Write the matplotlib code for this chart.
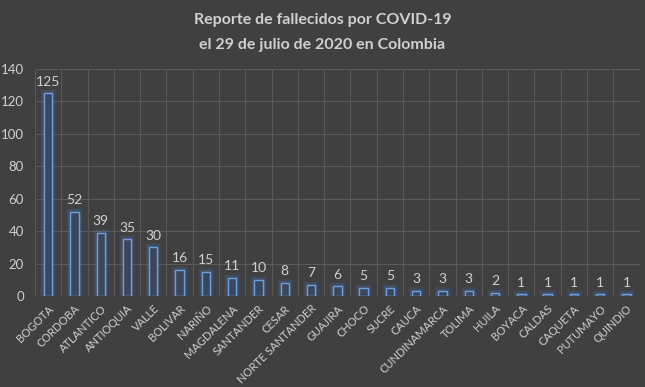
import matplotlib
matplotlib.use("Agg")
import matplotlib.pyplot as plt
import numpy as np

departments = ["BOGOTA", "CORDOBA", "ATLANTICO", "ANTIOQUIA", "VALLE", "BOLIVAR", "NARIÑO",
               "MAGDALENA", "SANTANDER", "CESAR", "NORTE SANTANDER", "GUAJIRA", "CHOCO",
               "SUCRE", "CAUCA", "CUNDINAMARCA", "TOLIMA", "HUILA", "BOYACA", "CALDAS",
               "CAQUETA", "PUTUMAYO", "QUINDIO"]
deaths = [125, 52, 39, 35, 30, 16, 15, 11, 10, 8, 7, 6, 5, 5, 3, 3, 3, 2, 1, 1, 1, 1, 1]
yticks = [0, 20, 40, 60, 80, 100, 120, 140]

bg = "#404040"
grid_c = "#595959"
txt = "#d0d0d0"

plt.rcParams['font.family'] = ['Lato', 'DejaVu Sans']

fig = plt.figure(figsize=(6.45, 3.87), dpi=100, facecolor=bg)
n = len(departments)
ax = fig.add_axes([35/645, 1-296/387, (639.6-35)/645, (296-69)/387])
ax.set_facecolor(bg)

x = np.arange(n)
w = 0.32
# glow
for lw, a in [(6, 0.06), (4.5, 0.08), (3, 0.12)]:
    ax.bar(x, deaths, width=w, facecolor='none', edgecolor="#4a8be0", linewidth=lw, alpha=a, zorder=2)
ax.bar(x, deaths, width=w, facecolor="#3a475a", edgecolor="#6f9fe0", linewidth=1.0, zorder=3)

for xi, v in zip(x, deaths):
    ax.text(xi, v + 3.5, str(v), ha='center', va='bottom', color=txt, fontsize=10, zorder=4)

ax.set_xlim(-0.5, n - 0.5)
ax.set_ylim(0, 140)
ax.set_yticks(yticks)
ax.set_yticklabels([str(t) for t in yticks], color=txt, fontsize=9.5)
ax.set_xticks(x)
ax.set_xticklabels(departments, rotation=45, ha='right', rotation_mode='anchor', color=txt, fontsize=8)
ax.set_xticks(np.arange(-0.5, n, 1), minor=True)
ax.tick_params(axis='both', which='both', length=0)
ax.tick_params(axis='x', pad=5)
ax.tick_params(axis='y', pad=8)
ax.grid(True, axis='y', which='major', color=grid_c, linewidth=0.8, zorder=0)
ax.grid(True, axis='x', which='minor', color=grid_c, linewidth=0.8, zorder=0)
ax.set_axisbelow(True)
for s in ax.spines.values():
    s.set_visible(False)

fig.text(0.5, 1-20/387, "Reporte de fallecidos por COVID-19", ha='center', va='center',
         color=txt, fontsize=11.5, fontweight='bold')
fig.text(0.5, 1-45/387, "el 29 de julio de 2020 en Colombia", ha='center', va='center',
         color=txt, fontsize=11.5, fontweight='bold')

fig.savefig("out.png", dpi=100, facecolor=bg)
